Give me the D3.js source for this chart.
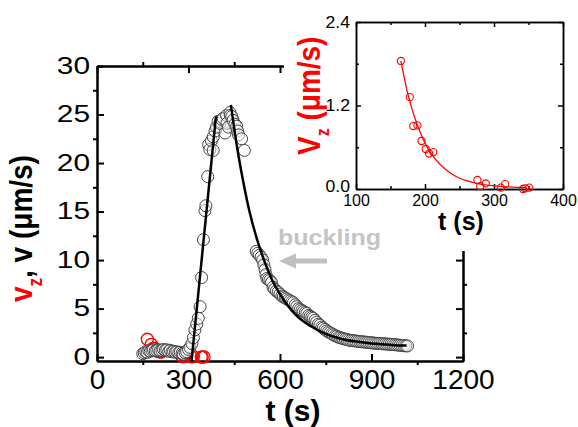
<!DOCTYPE html>
<html>
<head>
<meta charset="utf-8">
<script src="https://cdn.jsdelivr.net/npm/d3@7"></script>
<style>
  html, body { margin: 0; padding: 0; background: #fff; }
  svg { display: block; font-family: "Liberation Sans", Arial, sans-serif; }
</style>
</head>
<body>
<div id="chart"></div>
<script>
// ---------- DATA ----------
// Main panel: v (black open circles), [t (s), v (µm/s)]
const vPoints = [
  [150,0.35],[155,0.45],[160,0.55],[165,0.5],[170,0.65],[175,0.6],[180,0.7],[185,0.75],
  [191,0.65],[196,0.7],[202,0.75],[207,0.65],[213,0.7],[218,0.8],[224,0.7],[229,0.75],
  [235,0.6],[240,0.7],[246,0.55],[251,0.6],[257,0.5],[262,0.55],[268,0.45],[273,0.5],
  [279,0.4],[283,0.3],[289,0.45],[294,0.55],[300,0.8],[305,1.0],[311,1.4],[316,2.0],
  [321,2.8],[327,3.4],[332,4.0],[338,5.2],[343,8.2],[349,12.1],[354,15.1],[357,15.6],
  [363,18.6],[366,21.9],[370,21.4],[375,22.3],[381,21.3],[381,22.7],[387,23.3],[392,23.7],
  [397,24.3],[403,24.1],[409,24.5],[414,24.6],[420,23.1],[425,24.9],[426,24.1],[431,23.7],
  [436,25.2],[437,24.9],[442,24.8],[446,24.4],[452,24.0],[458,23.8],[461,23.3],[464,22.9],
  [474,22.5],[483,21.3],
  [522,10.9],[527,10.7],[532,10.5],[538,10.3],[543,10.0],[547,9.5],[551,9.0],[554,8.5],
  [557,8.1],[562,8.0],[567,7.9],[572,7.7],[577,7.2],[582,7.0],[588,6.8],[594,6.7],
  [600,6.5],[606,6.3],[611,6.2],[617,6.1],[622,6.0],[628,5.9],[633,5.8],[639,5.7],
  [644,5.6],[650,5.4],[655,5.2],[661,5.0],[666,4.9],[672,4.8],[677,4.7],[683,4.6],
  [688,4.5],[694,4.3],[699,4.2],[704,4.1],[709,4.0],[715,3.8],[720,3.6],[726,3.4],
  [731,3.3],[737,3.1],[742,3.0],[748,2.85],[753,2.7],[759,2.6],[764,2.5],[770,2.4],
  [775,2.3],[781,2.2],[786,2.15],[792,2.05],[797,2.0],[803,1.95],[808,1.9],[814,1.85],
  [820,1.8],[826,1.75],[832,1.72],[838,1.7],[844,1.68],[850,1.65],[856,1.62],[862,1.6],
  [868,1.58],[874,1.56],[880,1.55],[886,1.52],[892,1.5],[898,1.48],[904,1.46],[910,1.44],
  [916,1.42],[922,1.41],[928,1.4],[934,1.38],[940,1.37],[946,1.36],[952,1.34],[958,1.33],
  [964,1.32],[970,1.3],[976,1.28],[982,1.26],[988,1.24],[994,1.22],[1000,1.2],[1006,1.18],
  [1012,1.16],[1018,1.15]
];
// v_z (red open circles), shown in both panels
const vzPoints = [
  [165,1.84],[178,1.32],[183,0.905],[189,0.915],[195,0.69],[201,0.575],[206,0.51],[212,0.53],
  [276,0.13],[280,0.04],[288,0.08],[310,0.02],[316,0.07],[342,0.0],[345,0.01],[351,0.02]
];
// Fits
const riseFit  = [[310,-0.4],[390,24.8]];
const decayFit = [[439,26.0],[460,21.5],[480,18.0],[500,15.0],[525,12.1],[550,9.8],[575,7.9],
  [600,6.5],[650,4.4],[700,3.2],[750,2.4],[800,1.9],[850,1.6],[900,1.4],[950,1.3],[1000,1.2],[1015,1.2]];
const vzFit = [[165,1.84],[175,1.37],[185,1.03],[195,0.77],[205,0.57],[215,0.43],[230,0.28],
  [245,0.18],[260,0.12],[280,0.07],[300,0.045],[320,0.03],[345,0.02]];

// Ticks
const mainXMajor = [0,300,600,900,1200];
const mainXMinor = [150,450,750,1050];
const mainYMajor = [0,5,10,15,20,25,30];
const mainYMinor = [2.5,7.5,12.5,17.5,22.5,27.5];
const insetXMajor = [100,200,300,400];
const insetXMinor = [150,250,350];
const insetYMajor = [0,1.2,2.4];
const insetYMinor = [0.6,1.8];

// ---------- DRAW ----------
const W = 578, H = 427;
const svg = d3.select("#chart").append("svg").attr("width", W).attr("height", H);

const x = d3.scaleLinear().domain([0,1200]).range([97,463]);
const y = d3.scaleLinear().domain([-0.4,30]).range([361,66]);

function styleAxis(g, sw) {
  g.select(".domain").attr("stroke", "#000").attr("stroke-width", sw);
  g.selectAll(".tick line").attr("stroke", "#000").attr("stroke-width", sw);
}
function stretchX(g, s) {
  g.selectAll("text").each(function() {
    const t = d3.select(this);
    const xv = +t.attr("x") || 0;
    t.attr("x", xv / s).attr("transform", `scale(${s},1)`);
  });
}

// main axes
const gMain = svg.append("g");
const bx = gMain.append("g").attr("transform", "translate(0,361)")
  .call(d3.axisBottom(x).tickValues(mainXMajor).tickSize(-7).tickSizeOuter(0).tickPadding(8).tickFormat(d3.format("d")));
bx.selectAll("text").attr("font-size", 28).attr("fill", "#000").attr("font-family", "Liberation Sans, Arial, sans-serif");
styleAxis(bx, 2);
const bxm = gMain.append("g").attr("transform", "translate(0,361)")
  .call(d3.axisBottom(x).tickValues(mainXMinor).tickSize(4).tickSizeOuter(0).tickFormat(""));
styleAxis(bxm, 2);

const tx = gMain.append("g").attr("transform", "translate(0,66)")
  .call(d3.axisTop(x).tickValues(mainXMajor).tickSize(-7).tickSizeOuter(0).tickFormat(""));
styleAxis(tx, 2);
const txm = gMain.append("g").attr("transform", "translate(0,66)")
  .call(d3.axisTop(x).tickValues(mainXMinor).tickSize(4).tickSizeOuter(0).tickFormat(""));
styleAxis(txm, 2);

const ly = gMain.append("g").attr("transform", "translate(97,0)")
  .call(d3.axisLeft(y).tickValues(mainYMajor).tickSize(-7).tickSizeOuter(0).tickPadding(7).tickFormat(d3.format("d")));
ly.selectAll("text").attr("font-size", 23).attr("fill", "#000").attr("font-family", "Liberation Sans, Arial, sans-serif");
stretchX(ly, 1.3);
styleAxis(ly, 2);
const lym = gMain.append("g").attr("transform", "translate(97,0)")
  .call(d3.axisLeft(y).tickValues(mainYMinor).tickSize(4).tickSizeOuter(0).tickFormat(""));
styleAxis(lym, 2);

const ry = gMain.append("g").attr("transform", "translate(463,0)")
  .call(d3.axisRight(y).tickValues(mainYMajor).tickSize(-7).tickSizeOuter(0).tickFormat(""));
styleAxis(ry, 2);
const rym = gMain.append("g").attr("transform", "translate(463,0)")
  .call(d3.axisRight(y).tickValues(mainYMinor).tickSize(4).tickSizeOuter(0).tickFormat(""));
styleAxis(rym, 2);

// main data
gMain.append("g").selectAll("circle").data(vzPoints).join("circle")
  .attr("cx", d => x(d[0])).attr("cy", d => y(d[1])).attr("r", 6)
  .attr("fill", "none").attr("stroke", "#ff0000").attr("stroke-width", 1.3);
gMain.append("g").selectAll("circle").data(vPoints).join("circle")
  .attr("cx", d => x(d[0])).attr("cy", d => y(d[1])).attr("r", 6)
  .attr("fill", "#fff").attr("fill-opacity", 0.45)
  .attr("stroke", "#444").attr("stroke-width", 1);

const line = d3.line().x(d => x(d[0])).y(d => y(d[1])).curve(d3.curveMonotoneX);
gMain.append("path").datum(riseFit).attr("d", line)
  .attr("fill", "none").attr("stroke", "#000").attr("stroke-width", 2.5);
gMain.append("path").datum(decayFit).attr("d", line)
  .attr("fill", "none").attr("stroke", "#000").attr("stroke-width", 2.5);

// main titles
svg.append("text").attr("x", 293).attr("y", 421).attr("text-anchor", "middle")
  .attr("font-size", 30).attr("font-weight", "bold").text("t (s)");

const yl = svg.append("text")
  .attr("transform", "translate(32,302) scale(1.15,1) rotate(-90)")
  .attr("font-size", 28).attr("font-weight", "bold");
yl.append("tspan").attr("fill", "#ff0000").text("v");
yl.append("tspan").attr("fill", "#ff0000").attr("font-size", 17).attr("dy", 9).text("z");
yl.append("tspan").attr("fill", "#000").attr("dy", -9).text(", v (\u03BCm/s)");

// ---------- INSET ----------
svg.append("rect").attr("x", 284).attr("y", 0).attr("width", W - 284).attr("height", 251).attr("fill", "#fff");

const xi = d3.scaleLinear().domain([100,400]).range([356,563]);
const yi = d3.scaleLinear().domain([0,2.4]).range([189,22]);
const gIn = svg.append("g");

const ibx = gIn.append("g").attr("transform", "translate(0,189)")
  .call(d3.axisBottom(xi).tickValues(insetXMajor).tickSize(-5).tickSizeOuter(0).tickPadding(6).tickFormat(d3.format("d")));
ibx.selectAll("text").attr("font-size", 16).attr("fill", "#000").attr("font-family", "Liberation Sans, Arial, sans-serif");
styleAxis(ibx, 1.5);
const ibxm = gIn.append("g").attr("transform", "translate(0,189)")
  .call(d3.axisBottom(xi).tickValues(insetXMinor).tickSize(-3).tickSizeOuter(0).tickFormat(""));
styleAxis(ibxm, 1.5);
const itx = gIn.append("g").attr("transform", "translate(0,22)")
  .call(d3.axisTop(xi).tickValues(insetXMajor).tickSize(-5).tickSizeOuter(0).tickFormat(""));
styleAxis(itx, 1.5);
const itxm = gIn.append("g").attr("transform", "translate(0,22)")
  .call(d3.axisTop(xi).tickValues(insetXMinor).tickSize(-3).tickSizeOuter(0).tickFormat(""));
styleAxis(itxm, 1.5);

const ily = gIn.append("g").attr("transform", "translate(356,0)")
  .call(d3.axisLeft(yi).tickValues(insetYMajor).tickSize(-5).tickSizeOuter(0).tickPadding(6).tickFormat(d3.format(".1f")));
ily.selectAll("text").attr("font-size", 16).attr("fill", "#000").attr("font-family", "Liberation Sans, Arial, sans-serif");
stretchX(ily, 1.1);
ily.selectAll("text").filter(d => d === 0).attr("dy", "0.15em");
styleAxis(ily, 1.5);
const ilym = gIn.append("g").attr("transform", "translate(356,0)")
  .call(d3.axisLeft(yi).tickValues(insetYMinor).tickSize(-3).tickSizeOuter(0).tickFormat(""));
styleAxis(ilym, 1.5);
const iry = gIn.append("g").attr("transform", "translate(563,0)")
  .call(d3.axisRight(yi).tickValues(insetYMajor).tickSize(-5).tickSizeOuter(0).tickFormat(""));
styleAxis(iry, 1.5);
const irym = gIn.append("g").attr("transform", "translate(563,0)")
  .call(d3.axisRight(yi).tickValues(insetYMinor).tickSize(-3).tickSizeOuter(0).tickFormat(""));
styleAxis(irym, 1.5);

const lineIn = d3.line().x(d => xi(d[0])).y(d => yi(d[1])).curve(d3.curveMonotoneX);
gIn.append("path").datum(vzFit).attr("d", lineIn)
  .attr("fill", "none").attr("stroke", "#ff0000").attr("stroke-width", 1.3);
gIn.append("g").selectAll("circle").data(vzPoints).join("circle")
  .attr("cx", d => xi(d[0])).attr("cy", d => yi(d[1])).attr("r", 3.6)
  .attr("fill", "none").attr("stroke", "#ff0000").attr("stroke-width", 1.1);

svg.append("text").attr("x", 461).attr("y", 230).attr("text-anchor", "middle")
  .attr("font-size", 25).attr("font-weight", "bold").text("t (s)");

const yli = svg.append("text")
  .attr("transform", "translate(320,155) scale(1.1,1) rotate(-90)")
  .attr("font-size", 28).attr("font-weight", "bold").attr("fill", "#ff0000");
yli.append("tspan").text("V");
yli.append("tspan").attr("font-size", 16).attr("dy", 8).text("z");
yli.append("tspan").attr("dy", -8).text(" (\u03BCm/s)");

// ---------- annotation ----------
svg.append("text").attr("transform", "translate(278,245) scale(1.14,1)")
  .attr("font-size", 22).attr("font-weight", "bold").attr("fill", "#c4c4c4").text("buckling");
svg.append("path")
  .attr("d", "M279,261 L296,253.5 L296,258.5 L327,258.5 L327,263.5 L296,263.5 L296,268.5 Z")
  .attr("fill", "#c0c0c0");
</script>
</body>
</html>
